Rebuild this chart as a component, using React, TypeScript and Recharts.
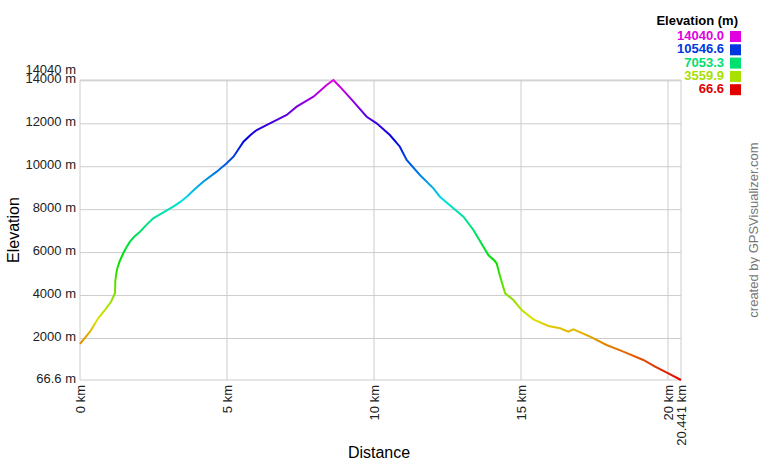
import React from "react";
import { LineChart, Line, XAxis, YAxis, CartesianGrid } from "recharts";

const distanceKm = [0, 0.34, 0.62, 0.85, 1.05, 1.19, 1.2, 1.23, 1.27, 1.35, 1.47, 1.58, 1.7, 1.85, 2.04, 2.25, 2.49, 2.75, 3.17, 3.4, 3.63, 3.9, 4.19, 4.65, 4.99, 5.22, 5.56, 5.8, 6.01, 6.46, 7.03, 7.37, 7.94, 8.39, 8.62, 8.84, 9.3, 9.75, 10.09, 10.54, 10.88, 11.11, 11.56, 12.02, 12.24, 12.7, 13.04, 13.38, 13.72, 13.89, 14.1, 14.17, 14.29, 14.46, 14.74, 15.02, 15.42, 15.93, 16.33, 16.61, 16.78, 17.35, 17.91, 18.48, 19.16, 19.56, 20.01, 20.441];
const elevationM = [1750, 2316, 2940, 3327, 3700, 4105, 4645, 5000, 5270, 5600, 5968, 6250, 6508, 6750, 6974, 7280, 7598, 7800, 8139, 8350, 8605, 8950, 9303, 9770, 10160, 10467, 11166, 11480, 11711, 12023, 12410, 12797, 13263, 13807, 14040, 13728, 13030, 12330, 12023, 11478, 10933, 10314, 9615, 8996, 8605, 8064, 7673, 7053, 6276, 5889, 5620, 5502, 4878, 4105, 3793, 3327, 2894, 2582, 2475, 2316, 2428, 2083, 1697, 1385, 998, 686, 379, 66.6];

const xTicks = [0, 5, 10, 15, 20, 20.441];
const yTicks = [66.6, 2000, 4000, 6000, 8000, 10000, 12000, 14000, 14040];
const legendValues = ["14040.0", "10546.6", "7053.3", "3559.9", "66.6"];
const legendHues = [300, 225, 150, 75, 0];
const hueStops = [300, 270, 240, 210, 180, 150, 120, 90, 60, 30, 0];

const data = distanceKm.map((d, i) => ({ dist: d, ele: elevationM[i] }));

const FONT = "Arial, 'Liberation Sans', sans-serif";
const col = (h: number) => `hsl(${h}, 100%, 44%)`;

const YTick = (props: any) => {
  const { x, y, payload } = props;
  const v = payload.value;
  const shift = v === 14040 ? -9 : 0;
  return (
    <text x={x} y={y} dy={2.5 + shift} textAnchor="end" fontSize={13} fontFamily={FONT} fill="#222">
      {`${v} m`}
    </text>
  );
};

const XTick = (props: any) => {
  const { x, y, payload } = props;
  return (
    <text transform={`translate(${x},${y}) rotate(-90)`} dy={4.5} textAnchor="end" fontSize={13} fontFamily={FONT} fill="#222">
      {`${payload.value} km`}
    </text>
  );
};

export default function App() {
  return (
    <div style={{ position: "absolute", left: 0, top: 0, width: 760, height: 460, background: "#fff" }}>
      <LineChart width={760} height={460} data={data} margin={{ top: 80, right: 79, bottom: 20, left: 10 }}>
        <defs>
          <linearGradient id="eleGrad" x1="0" y1="0" x2="0" y2="1">
            {hueStops.map((h, i) => (
              <stop key={i} offset={`${(i / (hueStops.length - 1)) * 100}%`} stopColor={col(h)} />
            ))}
          </linearGradient>
        </defs>
        <CartesianGrid stroke="#cccccc" strokeWidth={1} />
        <XAxis
          dataKey="dist"
          type="number"
          domain={[0, 20.441]}
          ticks={xTicks}
          interval={0}
          height={60}
          axisLine={false}
          tickLine={false}
          tickSize={0}
          tickMargin={5}
          tick={<XTick />}
        />
        <YAxis
          dataKey="ele"
          type="number"
          domain={[66.6, 14040]}
          ticks={yTicks}
          interval={0}
          width={70}
          axisLine={false}
          tickLine={false}
          tickSize={0}
          tickMargin={4}
          tick={<YTick />}
        />
        <Line type="linear" dataKey="ele" stroke="url(#eleGrad)" strokeWidth={2} dot={false} isAnimationActive={false} />
      </LineChart>
      <svg width={760} height={460} style={{ position: "absolute", left: 0, top: 0, pointerEvents: "none" }}>
        <text x={738} y={25} textAnchor="end" fontSize={13} fontWeight="bold" fontFamily={FONT} fill="#000">
          Elevation (m)
        </text>
        {legendValues.map((v, i) => (
          <g key={v}>
            <text x={724} y={40 + i * 13.3} textAnchor="end" fontSize={13} fontWeight="bold" fontFamily={FONT} fill={col(legendHues[i])}>
              {v}
            </text>
            <rect x={730} y={31 + i * 13.3} width={11} height={11} fill={col(legendHues[i])} />
          </g>
        ))}
        <text x={379} y={458} textAnchor="middle" fontSize={16} fontFamily={FONT} fill="#000">
          Distance
        </text>
        <text transform="translate(19,230) rotate(-90)" textAnchor="middle" fontSize={16} fontFamily={FONT} fill="#000">
          Elevation
        </text>
        <text transform="translate(758,230) rotate(-90)" textAnchor="middle" fontSize={13} fontFamily={FONT} fill="#777">
          created by GPSVisualizer.com
        </text>
      </svg>
    </div>
  );
}
